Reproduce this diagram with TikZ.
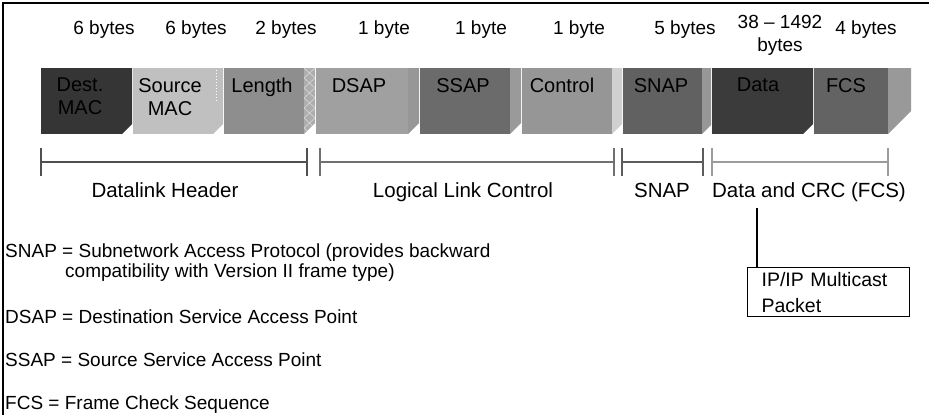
\documentclass[tikz,border=0pt]{standalone}
\usepackage{fontspec}
\setmainfont{Liberation Sans}

\definecolor{fDest}{HTML}{353535}
\definecolor{fSrc}{HTML}{C0C0C0}
\definecolor{fLen}{HTML}{8E8E8E}
\definecolor{fLenSide}{HTML}{ADADAD}
\definecolor{fDsap}{HTML}{A0A0A0}
\definecolor{fDsapSide}{HTML}{979797}
\definecolor{fSsap}{HTML}{6B6B6B}
\definecolor{fSsapSide}{HTML}{9A9A9A}
\definecolor{fCtrl}{HTML}{969696}
\definecolor{fCtrlSide}{HTML}{D0D0D0}
\definecolor{fSnap}{HTML}{616161}
\definecolor{fSnapSide}{HTML}{979797}
\definecolor{fData}{HTML}{3B3B3B}
\definecolor{fFcs}{HTML}{636363}
\definecolor{fFcsSide}{HTML}{999999}
\definecolor{brkA}{HTML}{505050}
\definecolor{brkB}{HTML}{707070}
\definecolor{brkC}{HTML}{5C5C5C}
\definecolor{brkD}{HTML}{9C9C9C}

\begin{document}
\begin{tikzpicture}[x=1pt,y=-1pt,
    bytelbl/.style={anchor=north,inner sep=0pt,align=center,font=\fontsize{19}{23}\selectfont},
    fieldlbl/.style={anchor=north,inner sep=0pt,align=center,font=\fontsize{20}{23}\selectfont},
    spanlbl/.style={anchor=base,inner sep=0pt,font=\fontsize{20.5}{24}\selectfont},
    defn/.style={anchor=base west,inner sep=0pt,font=\fontsize{19}{22}\selectfont},
    pktbox/.style={draw,line width=1.2pt,anchor=north west,inner sep=0pt,
      minimum width=162pt,minimum height=49pt,text width=134pt,align=left,
      font=\fontsize{19.5}{26}\selectfont},
    hatchln/.style={draw=white!82!black,line width=0.8pt}]
  \useasboundingbox (0,0) rectangle (929,415);
  % frame
  \draw[line width=2.5pt] (3,415) -- (3,3) -- (929,3);

  % frame fields: front face and bevelled side
  \foreach \nm/\xa/\xb/\xc/\fc/\sc/\lx/\txt in {
      dest/41/122/132/fDest/fDest/80/{Dest.\\MAC},
      src/133/213/223/fSrc/fSrc/170/{Source\\MAC},
      len/224/304/315/fLen/fLenSide/262/Length,
      dsap/316/408/419/fDsap/fDsapSide/359/DSAP,
      ssap/420/510/521/fSsap/fSsapSide/463/SSAP,
      ctrl/522/612/622/fCtrl/fCtrlSide/562/Control,
      snap/623/702/711/fSnap/fSnapSide/661/SNAP,
      data/712/803/813/fData/fData/758/Data,
      fcs/814/888/911/fFcs/fFcsSide/846/FCS}{
    \fill[\fc] (\xa,68) rectangle (\xb,134);
    \fill[\sc] (\xb,68) -- (\xc,68) -- (\xc,{134-\xc+\xb}) -- (\xb,134) -- cycle;
    \node[fieldlbl] (\nm) at (\lx,78) {\txt};
  }
  \begin{scope}
    \clip (304,68) -- (315,68) -- (315,123) -- (304,134) -- cycle;
    \foreach \k in {0,...,6}
      \draw[hatchln] (304,{68+10*\k}) -- (315,{78+10*\k})
                     (315,{68+10*\k}) -- (304,{78+10*\k});
  \end{scope}
  \draw[white,dotted,line width=1pt] (216,70) -- (216,101);

  % sizes
  \foreach \nm/\x/\txt in {b1/104/6 bytes, b2/196/6 bytes, b3/286/2 bytes,
      b4/384/1 byte, b5/481/1 byte, b6/579/1 byte, b7/685/5 bytes, b9/866/4 bytes}
    \node[bytelbl] (\nm) at (\x,20.5) {\txt};
  \node[bytelbl] (b8) at (780,15) {38 – 1492\\bytes};

  % spans
  \foreach \nm/\xa/\xb/\cl in {dlh/41/307/brkA, llc/320/614/brkB,
      snp/622/703/brkC, dcrc/712/888/brkD}{
    \draw[\cl,line width=1.5pt] (\xa,162) -- (\xb,162);
    \draw[\cl,line width=2pt] (\xa,148) -- (\xa,176) (\xb,148) -- (\xb,176);
  }
  \node[spanlbl] (dlhlbl) at (165,197) {Datalink Header};
  \node[spanlbl] (llclbl) at (463,197) {Logical Link Control};
  \node[spanlbl] (snplbl) at (662,197) {SNAP};
  \node[spanlbl] (crc) at (809,197) {Data and CRC (FCS)};

  % payload
  \node[pktbox] (ippkt) at (747,267) {IP/IP Multicast\\Packet};
  \coordinate (tap) at ([xshift=10pt]ippkt.north west);
  \draw[line width=1.2pt] ([yshift=-7pt]crc.south -| tap) -- (tap);

  % legend
  \node[defn] (snapdef) at (5,257) {SNAP = Subnetwork Access Protocol (provides backward};
  \node[defn] (snapdef2) at (65,277) {compatibility with Version II frame type)};
  \node[defn] (dsapdef) at (5,323) {DSAP = Destination Service Access Point};
  \node[defn] (ssapdef) at (5,366) {SSAP = Source Service Access Point};
  \node[defn] (fcsdef) at (5,409) {FCS = Frame Check Sequence};
\end{tikzpicture}
\end{document}
